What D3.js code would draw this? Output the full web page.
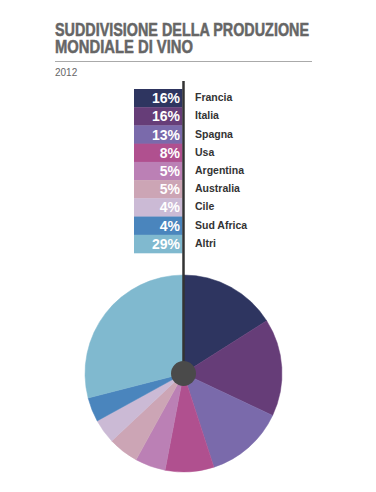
<!DOCTYPE html>
<html><head><meta charset="utf-8">
<script src="https://cdn.jsdelivr.net/npm/d3@7"></script>
<style>body{margin:0;background:#fff}svg{display:block}</style>
</head><body>
<script>
const categories = ["Francia","Italia","Spagna","Usa","Argentina","Australia","Cile","Sud Africa","Altri"];
const values = [16,16,13,8,5,5,4,4,29];
const colors = ["#2e3560","#663d78","#7a6aab","#b0508f","#bb80b5","#cca5b5","#cbbad5","#4a85bd","#80b9cf"];
const titleLines = ["SUDDIVISIONE DELLA PRODUZIONE","MONDIALE DI VINO"];
const titleWidths = [254,138];
const subtitle = "2012";

const W=376,H=492;
const svg=d3.select("body").append("svg").attr("width",W).attr("height",H);

const title=svg.append("text").attr("class","title")
  .attr("font-family","'Liberation Sans',Arial,sans-serif").attr("font-weight","bold").attr("font-size",17.5)
  .attr("fill","#666").attr("stroke","#666").attr("stroke-width",0.5);
title.selectAll("tspan").data(titleLines).join("tspan")
  .attr("x",55).attr("y",(d,i)=>36+i*16.5)
  .attr("textLength",(d,i)=>titleWidths[i]).attr("lengthAdjust","spacingAndGlyphs")
  .text(d=>d);
svg.append("line").attr("x1",55).attr("x2",312).attr("y1",61.5).attr("y2",61.5)
  .attr("stroke","#aaa").attr("stroke-width",1);
svg.append("text").attr("x",55).attr("y",76).attr("font-family","'Liberation Sans',Arial,sans-serif")
  .attr("font-size",10).attr("fill","#666").text(subtitle);

// legend
const y=d3.scaleBand().domain(categories).range([89,253]).padding(0);
const lg=svg.append("g");
lg.selectAll("rect").data(categories).join("rect")
  .attr("x",134).attr("width",48.5).attr("y",d=>y(d)).attr("height",y.bandwidth()+0.3)
  .attr("fill",(d,i)=>colors[i]);
lg.selectAll("text.pct").data(categories).join("text").attr("class","pct")
  .attr("x",180).attr("y",d=>y(d)+y.bandwidth()/2+5).attr("text-anchor","end")
  .attr("font-family","'Liberation Sans',Arial,sans-serif").attr("font-weight","bold").attr("font-size",14)
  .attr("fill","#fff").text((d,i)=>values[i]+"%");
lg.selectAll("text.lab").data(categories).join("text").attr("class","lab")
  .attr("x",195).attr("y",d=>y(d)+y.bandwidth()/2+3).attr("text-anchor","start")
  .attr("font-family","'Liberation Sans',Arial,sans-serif").attr("font-weight","bold").attr("font-size",10.5)
  .attr("fill","#333").text(d=>d);

// pie
const cx=183.5,cy=373.5,R=98.5;
const pie=d3.pie().sort(null).value(d=>d)(values);
const arc=d3.arc().innerRadius(0).outerRadius(R);
const g=svg.append("g").attr("transform",`translate(${cx},${cy})`);
g.selectAll("path").data(pie).join("path").attr("d",arc).attr("fill",(d,i)=>colors[i])
  .attr("stroke",(d,i)=>colors[i]).attr("stroke-width",0.5);

svg.append("line").attr("x1",cx).attr("x2",cx).attr("y1",81).attr("y2",cy)
  .attr("stroke","#333").attr("stroke-width",2.5);
svg.append("circle").attr("cx",cx).attr("cy",cy).attr("r",12.5).attr("fill","#4a4a4a");
</script>
</body></html>
